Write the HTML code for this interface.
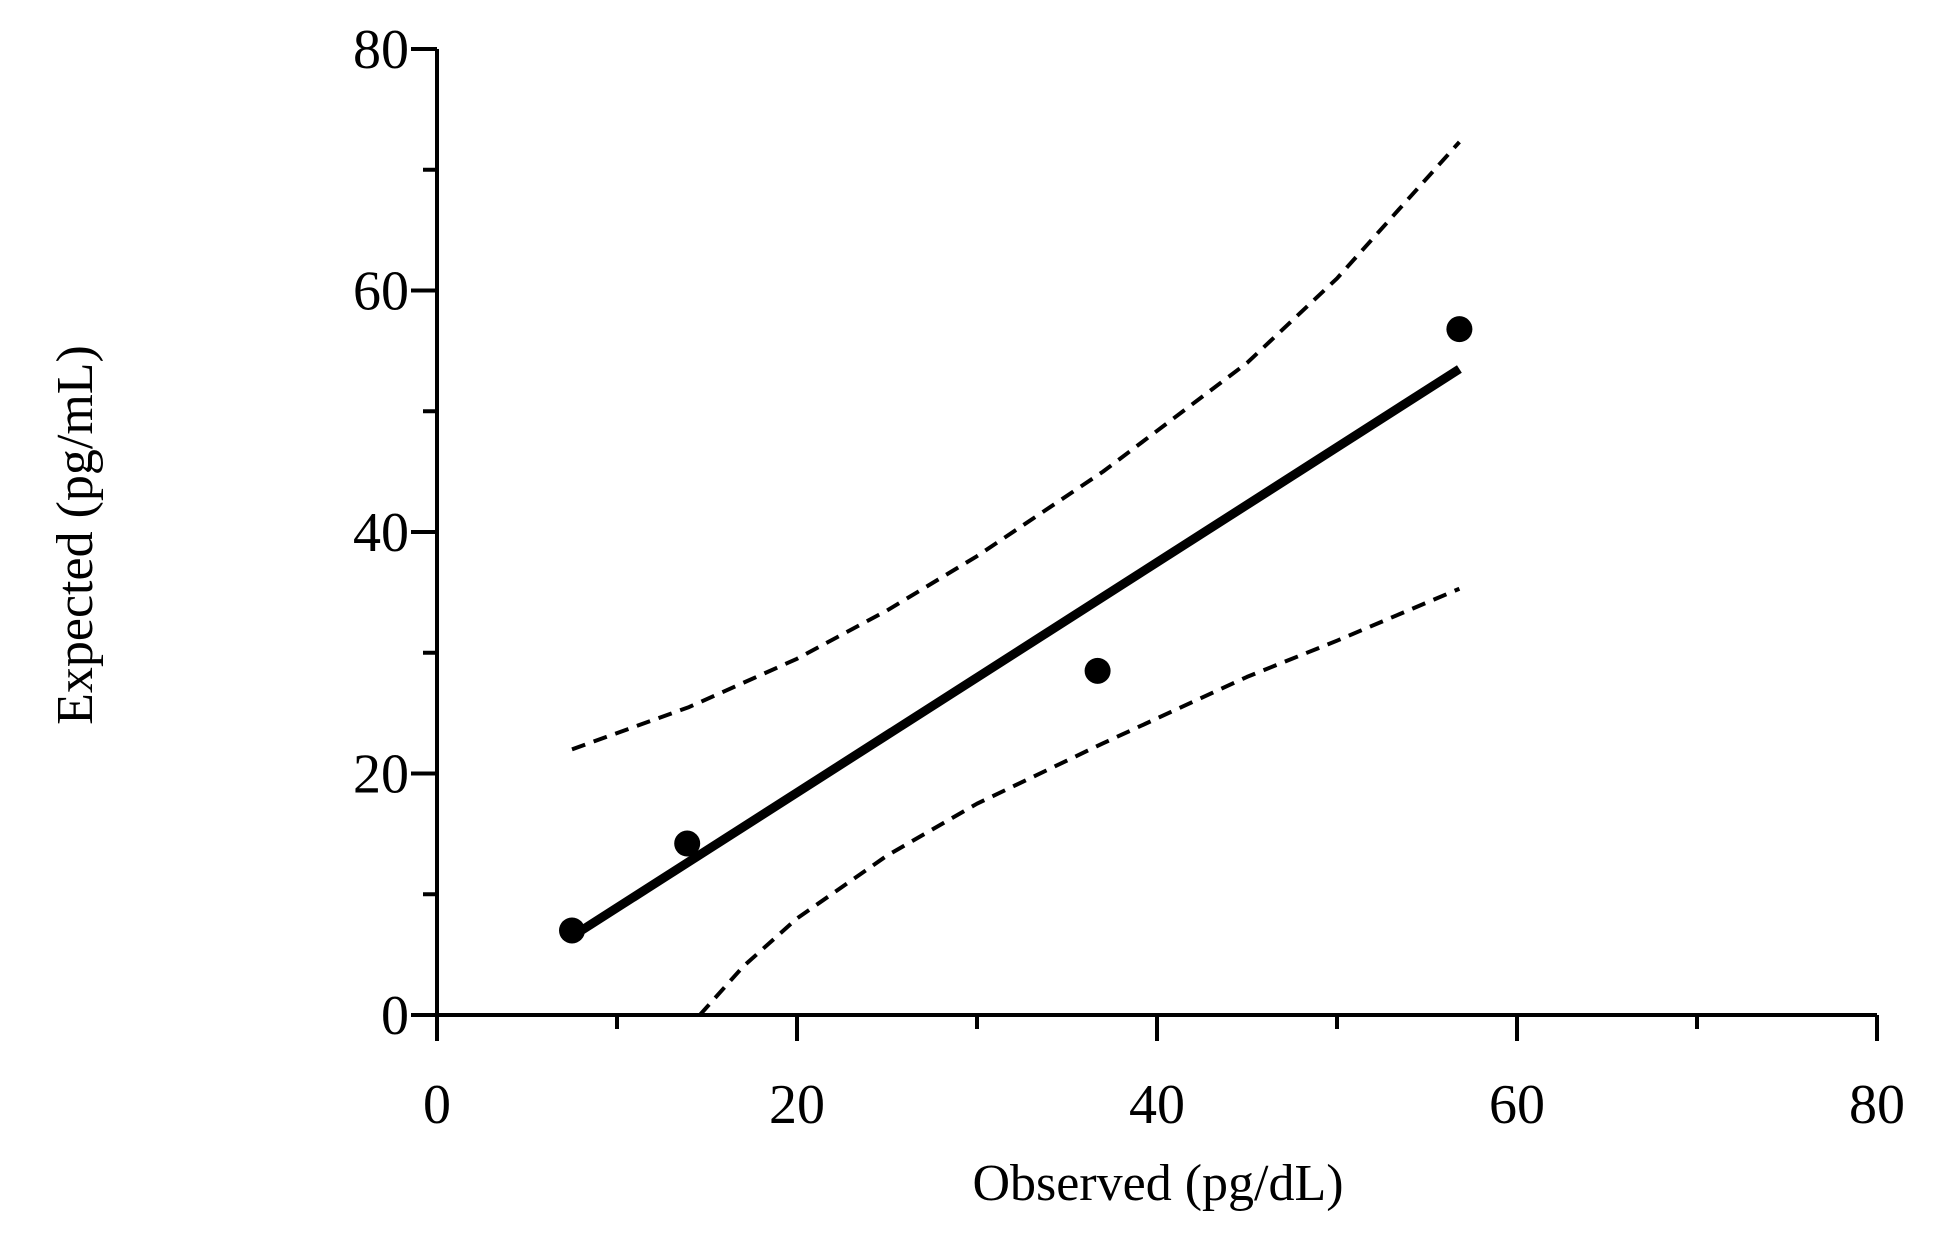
<!DOCTYPE html>
<html><head><meta charset="utf-8"><style>
html,body{margin:0;padding:0;background:#fff;}
svg text{font-family:"Liberation Serif",serif;fill:#000;}
</style></head><body>
<svg id="chart" width="1951" height="1240" xmlns="http://www.w3.org/2000/svg">
<g id="axes"></g><g id="marks"></g>
</svg>
<script>
const xTicks=[0,20,40,60,80];
const yTicks=[0,20,40,60,80];
const pointsX=[7.5,13.9,36.7,56.8];
const pointsY=[7,14.2,28.5,56.8];
const fitX=[7.5,56.8];
const fitY=[6.5,53.5];
const upperX=[7.5,14,20,25,30,37,45,50,56.8];
const upperY=[22,25.5,29.5,33.5,38,45,54,61,72.3];
const lowerX=[14.6,17,20,25,30,37,45,50,56.8];
const lowerY=[0,4,8,13.2,17.5,22.5,28,31,35.3];

const NS="http://www.w3.org/2000/svg";
const X0=437,X1=1877,Y0=1015,Y1=49;
const sx=v=>X0+(v/80)*(X1-X0);
const sy=v=>Y0-(v/80)*(Y0-Y1);
const axes=document.getElementById('axes'),marks=document.getElementById('marks');
function mk(tag,attrs,parent){const e=document.createElementNS(NS,tag);for(const k in attrs)e.setAttribute(k,attrs[k]);parent.appendChild(e);return e;}

let e;
e=mk('line',{x1:X0,y1:Y1,x2:X0,y2:Y0+26,stroke:'#000','stroke-width':4},axes);


e=mk('line',{x1:X0-26,y1:Y0,x2:X1,y2:Y0,stroke:'#000','stroke-width':4},axes);


for(let v=0;v<=80;v+=10){
  const major=v%20===0;
  e=mk('line',{x1:sx(v),y1:Y0,x2:sx(v),y2:Y0+(major?26:14),stroke:'#000','stroke-width':4},axes);
  
  
  e=mk('line',{x1:X0,y1:sy(v),x2:X0-(major?26:14),y2:sy(v),stroke:'#000','stroke-width':4},axes);
  
  
}
xTicks.forEach(v=>{e=mk('text',{x:sx(v),y:Y0+108,'text-anchor':'middle','font-size':56},axes);e.textContent=v;

});
yTicks.forEach(v=>{e=mk('text',{x:X0-28,y:sy(v)+19,'text-anchor':'end','font-size':56},axes);e.textContent=v;

});
e=mk('text',{x:1158,y:1200,'text-anchor':'middle','font-size':52},axes);e.textContent='Observed (pg/dL)';


e=mk('text',{x:0,y:0,'text-anchor':'middle','font-size':52,transform:'translate(92,535) rotate(-90)'},axes);e.textContent='Expected (pg/mL)';



function poly(xs,ys,attrs,name){
  const d=xs.map((x,i)=>(i?'L':'M')+sx(x)+','+sy(ys[i])).join(' ');
  const p=mk('path',Object.assign({d:d,fill:'none',stroke:'#000','stroke-linejoin':'round'},attrs),marks);
  
  
}
poly(upperX,upperY,{'stroke-width':4,'stroke-dasharray':'14,9'},'upper-confidence-band');
poly(lowerX,lowerY,{'stroke-width':4,'stroke-dasharray':'14,9'},'lower-confidence-band');
poly(fitX,fitY,{'stroke-width':9},'regression-line');
pointsX.forEach((x,i)=>{
  const c=mk('circle',{cx:sx(x),cy:sy(pointsY[i]),r:13,fill:'#000'},marks);
  
  
});
</script>
</body></html>
